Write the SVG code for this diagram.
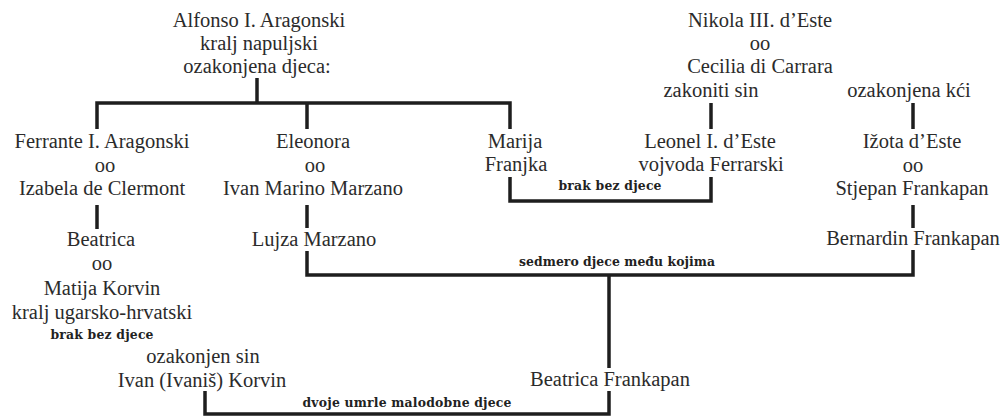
<svg xmlns="http://www.w3.org/2000/svg" width="1002" height="417" viewBox="0 0 1002 417">
<style>
.t{font-family:"Liberation Serif","Times New Roman",serif;font-size:20.5px;fill:#2b2b2b;text-anchor:middle}
.b{font-family:"DejaVu Serif","Liberation Serif",serif;font-size:12.4px;font-weight:bold;fill:#222;text-anchor:middle}
.c{fill:none;stroke:#1e1e1e;stroke-width:3.5;stroke-linejoin:miter;stroke-linecap:butt}
</style>
<rect width="1002" height="417" fill="#fff"/>
<g id="connectors">
<polyline class="c" points="257,78 257,103"/>
<polyline class="c" points="97,129 97,103 510,103 510,129"/>
<polyline class="c" points="307,103 307,129"/>
<polyline class="c" points="711,103 711,129"/>
<polyline class="c" points="913,103 913,129"/>
<polyline class="c" points="97,205 97,229"/>
<polyline class="c" points="307,205 307,228"/>
<polyline class="c" points="913,205 913,228"/>
<polyline class="c" points="510,177 510,201 711,201 711,177"/>
<polyline class="c" points="307,251 307,275 913,275 913,250"/>
<polyline class="c" points="609,275 609,368"/>
<polyline class="c" points="205,391 205,414 609,414 609,391"/>
</g>
<g id="alfonso">
<text class="t" x="259" y="27">Alfonso I. Aragonski</text>
<text class="t" x="259" y="50">kralj napuljski</text>
<text class="t" x="257" y="73">ozakonjena djeca:</text>
</g>
<g id="nikola">
<text class="t" x="760" y="27">Nikola III. d’Este</text>
<text class="t" x="760" y="50">oo</text>
<text class="t" x="760" y="73">Cecilia di Carrara</text>
</g>
<g id="zakoniti-sin"><text class="t" x="711" y="97">zakoniti sin</text></g>
<g id="ozakonjena-kci"><text class="t" x="909" y="97">ozakonjena kći</text></g>
<g id="ferrante">
<text class="t" x="102" y="148">Ferrante I. Aragonski</text>
<text class="t" x="105" y="172">oo</text>
<text class="t" x="102" y="195">Izabela de Clermont</text>
</g>
<g id="eleonora">
<text class="t" x="313" y="148">Eleonora</text>
<text class="t" x="315" y="172">oo</text>
<text class="t" x="313" y="195">Ivan Marino Marzano</text>
</g>
<g id="marija">
<text class="t" x="515" y="148">Marija</text>
<text class="t" x="516" y="171">Franjka</text>
</g>
<g id="leonel">
<text class="t" x="710" y="148">Leonel I. d’Este</text>
<text class="t" x="711" y="171">vojvoda Ferrarski</text>
</g>
<g id="izota">
<text class="t" x="912" y="148">Ižota d’Este</text>
<text class="t" x="913" y="172">oo</text>
<text class="t" x="912" y="195">Stjepan Frankapan</text>
</g>
<g id="beatrica">
<text class="t" x="101" y="246">Beatrica</text>
<text class="t" x="102" y="270">oo</text>
<text class="t" x="102" y="295">Matija Korvin</text>
<text class="t" x="102" y="319">kralj ugarsko-hrvatski</text>
<text class="b" x="102" y="339" textLength="103" lengthAdjust="spacing">brak bez djece</text>
</g>
<g id="ivan">
<text class="t" x="203" y="363">ozakonjen sin</text>
<text class="t" x="202" y="387">Ivan (Ivaniš) Korvin</text>
</g>
<g id="lujza"><text class="t" x="314" y="246">Lujza Marzano</text></g>
<g id="bernardin"><text class="t" x="913" y="245">Bernardin Frankapan</text></g>
<g id="beatrica-frankapan"><text class="t" x="610" y="386">Beatrica Frankapan</text></g>
<g id="labels">
<text class="b" x="610" y="190" textLength="103" lengthAdjust="spacing">brak bez djece</text>
<text class="b" x="617" y="266" textLength="196" lengthAdjust="spacing">sedmero djece među kojima</text>
<text class="b" x="407" y="407" textLength="209" lengthAdjust="spacing">dvoje umrle malodobne djece</text>
</g>
</svg>
